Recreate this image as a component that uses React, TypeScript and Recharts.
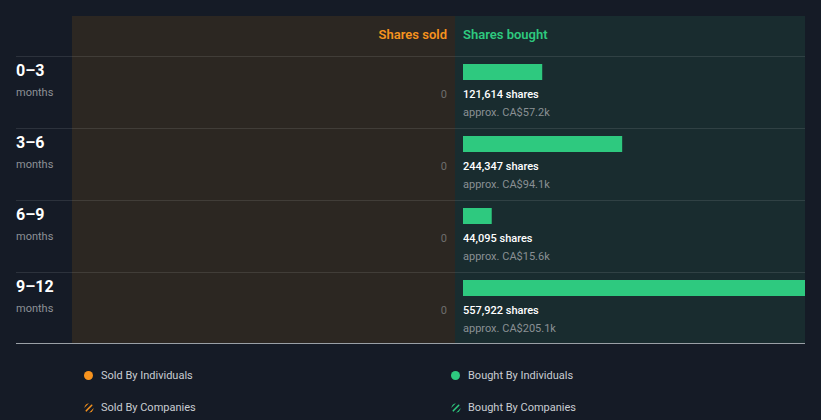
import React from 'react';
import { BarChart, Bar, XAxis, YAxis } from 'recharts';

// insider transactions by period (shares)
const periods = ['0–3', '3–6', '6–9', '9–12'];
const sharesSold = [0, 0, 0, 0];
const sharesBought = [121614, 244347, 44095, 557922];
const boughtValue = ['CA$57.2k', 'CA$94.1k', 'CA$15.6k', 'CA$205.1k'];

const ROW = 72;
const GREEN = '#2ec97f';
const ORANGE = '#f7931e';
const FONT = 'Roboto, "Noto Sans", sans-serif';

const data = periods.map((period, i) => ({
  period,
  sold: sharesSold[i],
  bought: sharesBought[i],
  value: boughtValue[i],
}));

const PeriodTick = (props: any) => {
  const { y, index } = props;
  const top = y - ROW / 2;
  return (
    <g fontFamily={FONT}>
      <text x={16} y={top + 20} fill="#ffffff" fontSize={16} fontWeight={700}>
        {periods[index]}
      </text>
      <text x={16} y={top + 40} fill="#8d9196" fontSize={11}>
        months
      </text>
      <text x={447} y={top + 42} fill="#6e6e6e" fontSize={11} textAnchor="end">
        {sharesSold[index].toLocaleString('en-US')}
      </text>
    </g>
  );
};

const BoughtBar = (props: any) => {
  const { x, y, width, height, payload } = props;
  const top = y + height / 2 - ROW / 2;
  return (
    <g fontFamily={FONT}>
      <rect x={x} y={top + 8} width={Math.max(width, 0)} height={16} fill={GREEN} />
      <text x={x} y={top + 42} fill="#ffffff" fontSize={11} fontWeight={500}>
        {payload.bought.toLocaleString('en-US')} shares
      </text>
      <text x={x} y={top + 60} fill="#8a9094" fontSize={11}>
        approx. {payload.value}
      </text>
    </g>
  );
};

const Hatch = ({ color, id }: { color: string; id: string }) => (
  <svg width={10} height={10} style={{ display: 'block' }}>
    <defs>
      <clipPath id={id}>
        <circle cx={5} cy={5} r={4.5} />
      </clipPath>
    </defs>
    <g clipPath={`url(#${id})`} stroke={color} strokeWidth={1.6}>
      <line x1={-2} y1={6} x2={6} y2={-2} />
      <line x1={1} y1={9} x2={9} y2={1} />
      <line x1={4} y1={12} x2={12} y2={4} />
    </g>
  </svg>
);

const LegendItem = ({ left, top, label, icon }: any) => (
  <div style={{ position: 'absolute', left, top, display: 'flex', alignItems: 'center' }}>
    <div style={{ width: 17 }}>{icon}</div>
    <span style={{ color: '#c9cdd2', fontSize: 11 }}>{label}</span>
  </div>
);

const Dot = ({ color }: { color: string }) => (
  <div style={{ width: 9, height: 9, borderRadius: '50%', background: color }} />
);

const App: React.FC = () => {
  const lines = [56, 128, 200, 272];
  return (
    <div
      style={{
        position: 'absolute',
        left: 0,
        top: 0,
        width: 821,
        height: 420,
        background: '#151b26',
        fontFamily: FONT,
        overflow: 'hidden',
      }}
    >
      <div style={{ position: 'absolute', left: 72, top: 16, width: 383, height: 327, background: '#2c2722' }} />
      <div style={{ position: 'absolute', left: 455, top: 16, width: 350, height: 327, background: '#192c2f' }} />
      {lines.map((t) => (
        <div
          key={t}
          style={{ position: 'absolute', left: 16, top: t, width: 789, height: 1, background: 'rgba(255,255,255,0.1)' }}
        />
      ))}
      <div style={{ position: 'absolute', left: 16, top: 343, width: 789, height: 1, background: '#9aa0a6' }} />
      <div
        style={{ position: 'absolute', right: 821 - 447, top: 27, color: ORANGE, fontSize: 13, fontWeight: 600 }}
      >
        Shares sold
      </div>
      <div style={{ position: 'absolute', left: 463, top: 27, color: GREEN, fontSize: 13, fontWeight: 600 }}>
        Shares bought
      </div>

      <div style={{ position: 'absolute', left: 0, top: 0 }}>
        <BarChart
          width={821}
          height={420}
          data={data}
          layout="vertical"
          margin={{ top: 56, right: 16, bottom: 76, left: 0 }}
          barCategoryGap={0}
        >
          <XAxis type="number" hide domain={[0, 525000]} allowDataOverflow />
          <YAxis
            type="category"
            dataKey="period"
            width={463}
            axisLine={false}
            tickLine={false}
            tick={<PeriodTick />}
            interval={0}
          />
          <Bar dataKey="bought" barSize={16} shape={<BoughtBar />} isAnimationActive={false} />
        </BarChart>
      </div>

      <LegendItem left={84} top={369} label="Sold By Individuals" icon={<Dot color={ORANGE} />} />
      <LegendItem left={84} top={401} label="Sold By Companies" icon={<Hatch color={ORANGE} id="hs" />} />
      <LegendItem left={451} top={369} label="Bought By Individuals" icon={<Dot color={GREEN} />} />
      <LegendItem left={451} top={401} label="Bought By Companies" icon={<Hatch color={GREEN} id="hb" />} />
    </div>
  );
};

export default App;
